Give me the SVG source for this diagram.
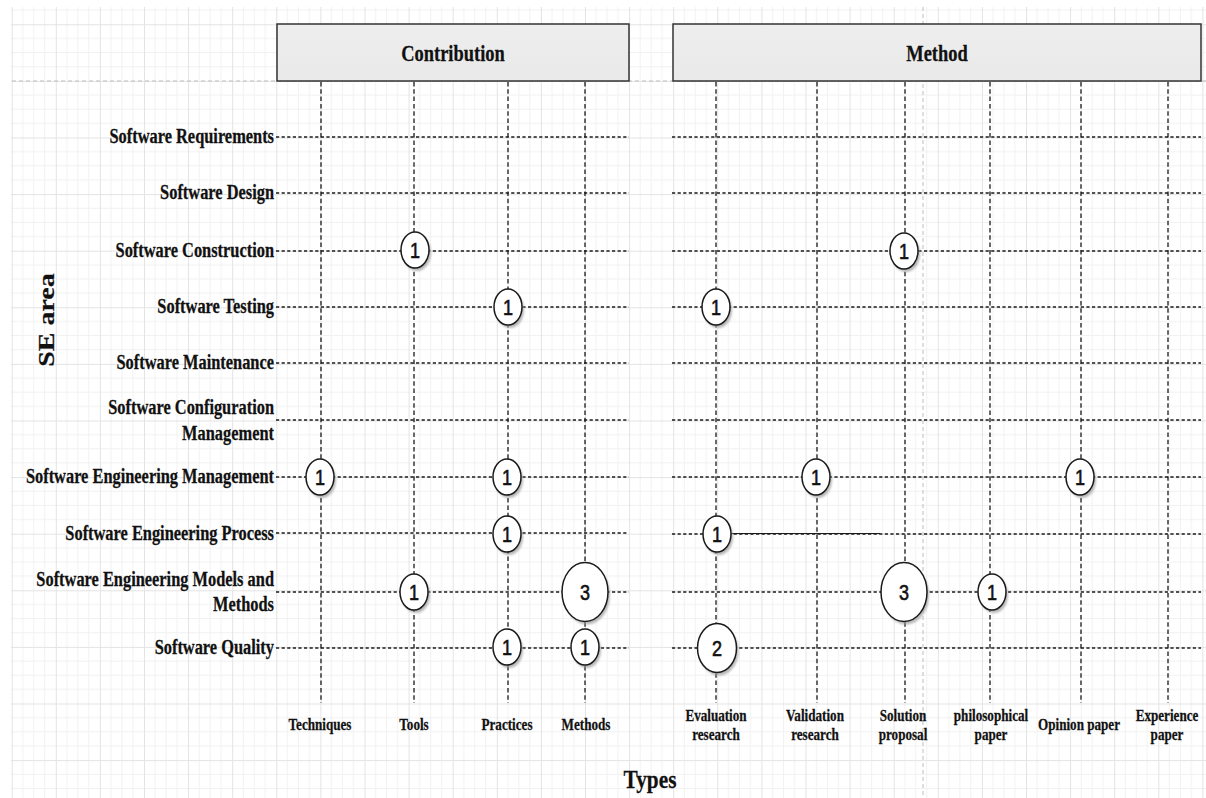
<svg xmlns="http://www.w3.org/2000/svg" width="1206" height="798" viewBox="0 0 1206 798">
<defs>
<pattern id="grid" patternUnits="userSpaceOnUse" x="11.7" y="24.3" width="44.1" height="56.6">
<path d="M11.03 0V56.6M22.05 0V56.6M33.08 0V56.6M0 14.15H44.1M0 28.3H44.1M0 42.45H44.1" stroke="#f1f1f1" stroke-width="1" fill="none"/>
<path d="M0.5 0V56.6M0 0.5H44.1" stroke="#e3e3e3" stroke-width="1" fill="none"/>
</pattern>
<filter id="sh" x="-30%" y="-30%" width="160%" height="160%"><feGaussianBlur stdDeviation="1.3"/></filter>
<linearGradient id="boxfill" x1="0" y1="0" x2="0" y2="1"><stop offset="0" stop-color="#eeeeee"/><stop offset="1" stop-color="#e9e9e9"/></linearGradient>
</defs>
<style>
.lbl{font-family:"Liberation Serif","Times New Roman",serif;font-weight:bold;fill:#111;stroke:#111;stroke-width:0.25}
.row{font-size:20px;text-anchor:end}
.typ{font-size:16px;text-anchor:middle}
.hdr{font-size:22.5px;text-anchor:middle}
.num{font-family:"Liberation Sans",Arial,sans-serif;font-size:22px;text-anchor:middle;fill:#111;stroke:#111;stroke-width:0.6}
.h{stroke:#1a1a1a;stroke-width:1.3;stroke-dasharray:3.2 2.4;fill:none}
.v{stroke:#1a1a1a;stroke-width:1.3;stroke-dasharray:4.5 2.8;fill:none}
.g{stroke:#bdbdbd;stroke-width:1;stroke-dasharray:4 3;fill:none}
.c{fill:#ffffff;stroke:#1a1a1a;stroke-width:1.5}
.s{fill:#9a9a9a;opacity:0.7;filter:url(#sh)}
.box{fill:url(#boxfill);stroke:#333333;stroke-width:1.5}
</style>
<rect width="1206" height="798" fill="#ffffff"/>
<rect x="11" y="7" width="1195" height="791" fill="url(#grid)"/>

<g id="guides">
<path class="g" d="M12 81H1206"/>
<path class="g" d="M923 7V798"/>
</g>

<g id="connectors">
<path class="h" d="M276 137H629M672 137H1201"/>
<path class="h" d="M276 193H629M672 193H1201"/>
<path class="h" d="M276 251H629M672 251H1201"/>
<path class="h" d="M276 307H629M672 307H1201"/>
<path class="h" d="M276 363H629M672 363H1201"/>
<path class="h" d="M276 420H629M672 420H1201"/>
<path class="h" d="M276 477H629M672 477H1201"/>
<path class="h" d="M276 533H627M672 534H1201"/>
<path d="M731 533.5H880" stroke="#1a1a1a" stroke-width="1.2" fill="none"/>
<path class="h" d="M276 592H629M672 592H1201"/>
<path class="h" d="M276 648H629M672 648H1201"/>
<path class="v" d="M321 82V703"/>
<path class="v" d="M414 82V703"/>
<path class="v" d="M508 82V703"/>
<path class="v" d="M585 82V703"/>
<path class="v" d="M716 82V703"/>
<path class="v" d="M817 82V703"/>
<path class="v" d="M905 82V703"/>
<path class="v" d="M990 82V703"/>
<path class="v" d="M1081 82V703"/>
<path class="v" d="M1168 82V703"/>
</g>

<g id="header-contribution">
<rect class="box" x="277" y="24" width="352" height="57"/>
<text class="lbl hdr" transform="translate(453 61) scale(0.82 1)">Contribution</text>
</g>
<g id="header-method">
<rect class="box" x="673" y="24" width="528" height="57"/>
<text class="lbl hdr" transform="translate(937 61) scale(0.82 1)">Method</text>
</g>

<g id="axis-se-area">
<text class="lbl" font-size="28" text-anchor="middle" transform="translate(54 320) scale(0.82 1) rotate(-90)">SE area</text>
</g>
<g id="axis-types">
<text class="lbl" font-size="26" text-anchor="middle" transform="translate(650 788) scale(0.82 1)">Types</text>
</g>

<g id="row-labels">
<text class="lbl row" transform="translate(274 143) scale(0.82 1)">Software Requirements</text>
<text class="lbl row" transform="translate(274 199) scale(0.82 1)">Software Design</text>
<text class="lbl row" transform="translate(274 257) scale(0.82 1)">Software Construction</text>
<text class="lbl row" transform="translate(274 313) scale(0.82 1)">Software Testing</text>
<text class="lbl row" transform="translate(274 369) scale(0.82 1)">Software Maintenance</text>
<text class="lbl row" transform="translate(274 414) scale(0.82 1)">Software Configuration</text>
<text class="lbl row" transform="translate(274 440) scale(0.82 1)">Management</text>
<text class="lbl row" transform="translate(274 483) scale(0.82 1)">Software Engineering Management</text>
<text class="lbl row" transform="translate(274 540) scale(0.82 1)">Software Engineering Process</text>
<text class="lbl row" transform="translate(274 586) scale(0.82 1)">Software Engineering Models and</text>
<text class="lbl row" transform="translate(274 611) scale(0.82 1)">Methods</text>
<text class="lbl row" transform="translate(274 654) scale(0.82 1)">Software Quality</text>
</g>

<g id="type-labels">
<text class="lbl typ" transform="translate(320 730) scale(0.82 1)">Techniques</text>
<text class="lbl typ" transform="translate(414 730) scale(0.82 1)">Tools</text>
<text class="lbl typ" transform="translate(507 730) scale(0.82 1)">Practices</text>
<text class="lbl typ" transform="translate(586 730) scale(0.82 1)">Methods</text>
<text class="lbl typ" transform="translate(716 721) scale(0.82 1)">Evaluation</text>
<text class="lbl typ" transform="translate(716 739.5) scale(0.82 1)">research</text>
<text class="lbl typ" transform="translate(815 721) scale(0.82 1)">Validation</text>
<text class="lbl typ" transform="translate(815 739.5) scale(0.82 1)">research</text>
<text class="lbl typ" transform="translate(903 721) scale(0.82 1)">Solution</text>
<text class="lbl typ" transform="translate(903 739.5) scale(0.82 1)">proposal</text>
<text class="lbl typ" transform="translate(991 721) scale(0.82 1)">philosophical</text>
<text class="lbl typ" transform="translate(991 739.5) scale(0.82 1)">paper</text>
<text class="lbl typ" transform="translate(1079 730) scale(0.82 1)">Opinion paper</text>
<text class="lbl typ" transform="translate(1167 721) scale(0.82 1)">Experience</text>
<text class="lbl typ" transform="translate(1167 739.5) scale(0.82 1)">paper</text>
</g>

<g id="n-construction-tools"><ellipse class="s" cx="417" cy="253" rx="14" ry="18"/><ellipse class="c" cx="415" cy="250" rx="14" ry="18"/><text class="num" transform="translate(415 258) scale(0.82 1)">1</text></g>
<g id="n-construction-solution"><ellipse class="s" cx="906" cy="254" rx="14" ry="18"/><ellipse class="c" cx="904" cy="251" rx="14" ry="18"/><text class="num" transform="translate(904 259) scale(0.82 1)">1</text></g>
<g id="n-testing-practices"><ellipse class="s" cx="510" cy="310" rx="14" ry="18"/><ellipse class="c" cx="508" cy="307" rx="14" ry="18"/><text class="num" transform="translate(508 315) scale(0.82 1)">1</text></g>
<g id="n-testing-evaluation"><ellipse class="s" cx="718" cy="310" rx="14" ry="18"/><ellipse class="c" cx="716" cy="307" rx="14" ry="18"/><text class="num" transform="translate(716 315) scale(0.82 1)">1</text></g>
<g id="n-sem-techniques"><ellipse class="s" cx="322" cy="480" rx="14" ry="18"/><ellipse class="c" cx="320" cy="477" rx="14" ry="18"/><text class="num" transform="translate(320 485) scale(0.82 1)">1</text></g>
<g id="n-sem-practices"><ellipse class="s" cx="509" cy="480" rx="14" ry="18"/><ellipse class="c" cx="507" cy="477" rx="14" ry="18"/><text class="num" transform="translate(507 485) scale(0.82 1)">1</text></g>
<g id="n-sem-validation"><ellipse class="s" cx="818" cy="480" rx="14" ry="18"/><ellipse class="c" cx="816" cy="477" rx="14" ry="18"/><text class="num" transform="translate(816 485) scale(0.82 1)">1</text></g>
<g id="n-sem-opinion"><ellipse class="s" cx="1082" cy="480" rx="14" ry="18"/><ellipse class="c" cx="1080" cy="477" rx="14" ry="18"/><text class="num" transform="translate(1080 485) scale(0.82 1)">1</text></g>
<g id="n-sep-practices"><ellipse class="s" cx="509" cy="537" rx="14" ry="18"/><ellipse class="c" cx="507" cy="534" rx="14" ry="18"/><text class="num" transform="translate(507 542) scale(0.82 1)">1</text></g>
<g id="n-sep-evaluation"><ellipse class="s" cx="719" cy="537" rx="14" ry="18"/><ellipse class="c" cx="717" cy="534" rx="14" ry="18"/><text class="num" transform="translate(717 542) scale(0.82 1)">1</text></g>
<g id="n-semm-tools"><ellipse class="s" cx="416" cy="595" rx="14" ry="18"/><ellipse class="c" cx="414" cy="592" rx="14" ry="18"/><text class="num" transform="translate(414 600) scale(0.82 1)">1</text></g>
<g id="n-semm-methods"><ellipse class="s" cx="587" cy="595" rx="23" ry="29.5"/><ellipse class="c" cx="585" cy="592" rx="23" ry="29.5"/><text class="num" transform="translate(585 600) scale(0.82 1)">3</text></g>
<g id="n-semm-solution"><ellipse class="s" cx="906" cy="595" rx="23" ry="29.5"/><ellipse class="c" cx="904" cy="592" rx="23" ry="29.5"/><text class="num" transform="translate(904 600) scale(0.82 1)">3</text></g>
<g id="n-semm-philosophical"><ellipse class="s" cx="994" cy="595" rx="14" ry="18"/><ellipse class="c" cx="992" cy="592" rx="14" ry="18"/><text class="num" transform="translate(992 600) scale(0.82 1)">1</text></g>
<g id="n-quality-practices"><ellipse class="s" cx="509" cy="650" rx="14" ry="18"/><ellipse class="c" cx="507" cy="647" rx="14" ry="18"/><text class="num" transform="translate(507 655) scale(0.82 1)">1</text></g>
<g id="n-quality-methods"><ellipse class="s" cx="587" cy="650" rx="14" ry="18"/><ellipse class="c" cx="585" cy="647" rx="14" ry="18"/><text class="num" transform="translate(585 655) scale(0.82 1)">1</text></g>
<g id="n-quality-evaluation"><ellipse class="s" cx="719" cy="651" rx="19.5" ry="24.5"/><ellipse class="c" cx="717" cy="648" rx="19.5" ry="24.5"/><text class="num" transform="translate(717 656) scale(0.82 1)">2</text></g>
</svg>
